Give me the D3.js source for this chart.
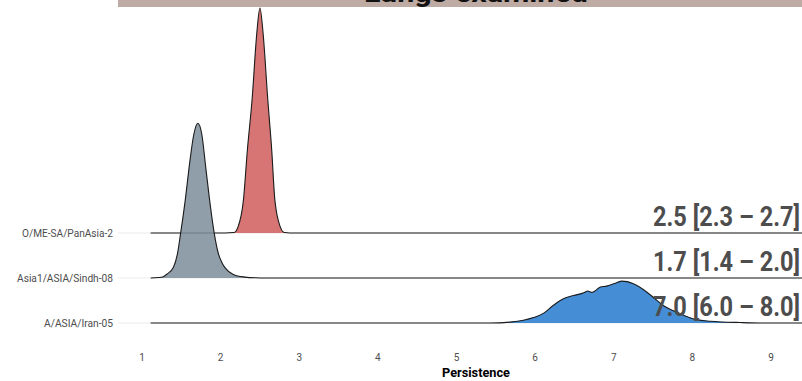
<!DOCTYPE html>
<html>
<head>
<meta charset="utf-8">
<script src="https://cdn.jsdelivr.net/npm/d3@7"></script>
<style>
  html, body { margin: 0; padding: 0; background: #fff; }
  svg { display: block; font-family: Roboto, "DejaVu Sans", sans-serif; }
</style>
</head>
<body>
<svg id="chart" width="802" height="381"></svg>
<script>
// ── data ─────────────────────────────────────
// lineages, bottom to top
const lineages = ["A/ASIA/Iran-05", "Asia1/ASIA/Sindh-08", "O/ME-SA/PanAsia-2"];
const summaries = ["7.0 [6.0 \u2013 8.0]", "1.7 [1.4 \u2013 2.0]", "2.5 [2.3 \u2013 2.7]"];
const fills = ["#247ACF", "#7C8D9B", "#D05D5D"];

// density curves: [persistence, density]
const iranDensity = [
  [5.43, 0], [5.68, 0.02], [5.85, 0.06], [5.98, 0.12], [6.11, 0.22], [6.23, 0.39],
  [6.36, 0.54], [6.49, 0.61], [6.62, 0.67], [6.67, 0.71], [6.72, 0.68], [6.76, 0.71],
  [6.83, 0.80], [6.91, 0.82], [7.00, 0.87], [7.10, 0.93], [7.17, 0.92], [7.25, 0.87],
  [7.38, 0.74], [7.51, 0.56], [7.63, 0.39], [7.76, 0.27], [7.89, 0.17], [8.06, 0.07],
  [8.23, 0.04], [8.61, 0.01], [8.86, 0]
];
const sindhDensity = [
  [1.11, 0], [1.21, 0.01], [1.27, 0.03], [1.32, 0.09], [1.40, 0.24], [1.45, 0.53],
  [1.49, 0.98], [1.55, 1.73], [1.60, 2.47], [1.66, 3.20], [1.71, 3.44], [1.76, 3.20],
  [1.81, 2.47], [1.86, 1.73], [1.92, 0.98], [1.97, 0.55], [2.02, 0.33], [2.06, 0.22],
  [2.16, 0.08], [2.31, 0.02], [2.44, 0.004], [2.57, 0]
];
const panAsiaDensity = [
  [2.06, 0], [2.17, 0.01], [2.22, 0.13], [2.29, 0.73], [2.34, 1.84], [2.40, 2.96],
  [2.46, 4.44], [2.50, 5.00], [2.54, 4.44], [2.60, 2.96], [2.65, 1.84], [2.69, 0.73],
  [2.76, 0.13], [2.81, 0.01], [2.88, 0]
];
const densities = [iranDensity, sindhDensity, panAsiaDensity];

const xTicks = [1, 2, 3, 4, 5, 6, 7, 8, 9];
const rangeMin = 1.11, rangeMax = 9.9;
const titleText = "Lungs examined";
const xLabel = "Persistence";

// ── layout ───────────────────────────────────
const svg = d3.select("#chart");
const panelLeft = 118, panelRight = 834;

const x = d3.scaleLinear().domain([1, 9]).range([142, 771]);
const y = d3.scalePoint().domain(lineages).range([323, 233]);
const h = d3.scaleLinear().domain([0, 5]).range([0, 225]);

// title strip (mostly off the top)
svg.append("rect")
  .attr("x", panelLeft).attr("y", -20)
  .attr("width", panelRight - panelLeft).attr("height", 27)
  .attr("fill", "#BEABA3");
svg.append("text")
  .attr("x", (panelLeft + panelRight) / 2).attr("y", 2)
  .attr("text-anchor", "middle")
  .attr("font-size", 26).attr("font-weight", 700)
  .attr("textLength", 224).attr("lengthAdjust", "spacingAndGlyphs")
  .attr("fill", "#111")
  .text(titleText);

// horizontal grid lines
svg.append("g").selectAll("line")
  .data(lineages).join("line")
  .attr("x1", panelLeft).attr("x2", panelRight)
  .attr("y1", d => y(d)).attr("y2", d => y(d))
  .attr("stroke", "#EBEBEB").attr("stroke-width", 1);

// ridges, top one first so lower ones overlap it
const order = [2, 1, 0];
const ridges = svg.append("g");
order.forEach(i => {
  const base = y(lineages[i]);
  let pts = densities[i].slice();
  if (pts[0][0] > rangeMin) pts.unshift([rangeMin, 0]);
  pts.push([rangeMax, 0]);

  const area = d3.area()
    .x(d => x(d[0]))
    .y0(base)
    .y1(d => base - h(d[1]))
    .curve(d3.curveMonotoneX);
  const line = d3.line()
    .x(d => x(d[0]))
    .y(d => base - h(d[1]))
    .curve(d3.curveMonotoneX);

  ridges.append("path")
    .attr("d", area(pts))
    .attr("fill", fills[i]).attr("fill-opacity", 0.85);
  ridges.append("path")
    .attr("d", line(pts))
    .attr("fill", "none")
    .attr("stroke", "#1a1a1a").attr("stroke-width", 1.1);
});

// lineage labels
svg.append("g").selectAll("text")
  .data(lineages).join("text")
  .attr("x", 113).attr("y", d => y(d) + 4)
  .attr("text-anchor", "end")
  .attr("font-size", 11).attr("fill", "#4D4D4D")
  .attr("textLength", (d, i) => [69, 96, 91][i])
  .attr("lengthAdjust", "spacingAndGlyphs")
  .text(d => d);

// summary labels on the right
svg.append("g").selectAll("text")
  .data(summaries).join("text")
  .attr("x", 800).attr("y", (d, i) => y(lineages[i]) - 7)
  .attr("text-anchor", "end")
  .attr("font-size", 28).attr("font-weight", 700)
  .attr("fill", "#4D4D4D")
  .attr("textLength", 147).attr("lengthAdjust", "spacingAndGlyphs")
  .text(d => d);

// x axis tick labels
svg.append("g").selectAll("text")
  .data(xTicks).join("text")
  .attr("x", d => x(d)).attr("y", 361)
  .attr("text-anchor", "middle")
  .attr("font-size", 10).attr("fill", "#4D4D4D")
  .text(d => d);

svg.append("text")
  .attr("x", (panelLeft + panelRight) / 2).attr("y", 377)
  .attr("text-anchor", "middle")
  .attr("font-size", 13).attr("font-weight", 700)
  .attr("textLength", 68).attr("lengthAdjust", "spacingAndGlyphs")
  .attr("fill", "#000")
  .text(xLabel);
</script>
</body>
</html>
